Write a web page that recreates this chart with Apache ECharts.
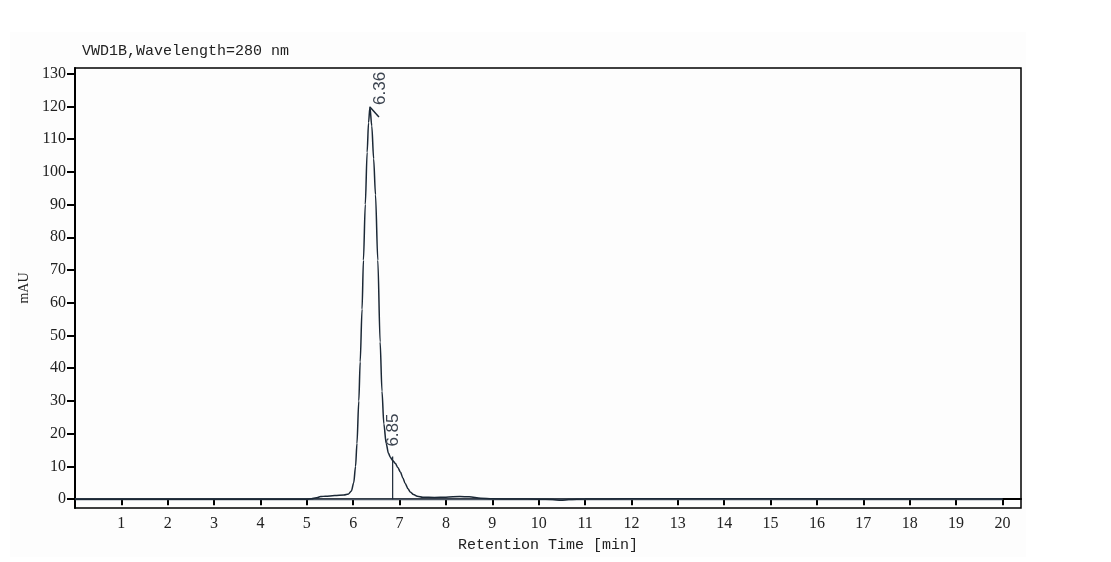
<!DOCTYPE html>
<html>
<head>
<meta charset="utf-8">
<script src="https://cdn.jsdelivr.net/npm/echarts@6/dist/echarts.min.js"></script>
<style>
html,body{margin:0;padding:0;background:#fff;}
#c{width:1111px;height:562px;}
</style>
</head>
<body>
<div id="c"></div>
<script>
// Retention time (min) and signal (mAU)
const times = [0, 5.0, 5.1, 5.2, 5.3, 5.4, 5.6, 5.8, 5.9, 5.96, 6.01, 6.05, 6.08, 6.12, 6.15, 6.19, 6.22, 6.26, 6.30, 6.33, 6.36,
  6.40, 6.44, 6.48, 6.53, 6.58, 6.62, 6.66, 6.71, 6.76, 6.80, 6.85, 6.91, 6.96, 7.02, 7.07, 7.12, 7.18, 7.23, 7.30, 7.38,
  7.5, 7.75, 8.0, 8.3, 8.5, 8.75, 9.0, 9.5, 10.0, 10.3, 10.48, 10.65, 11.0, 12, 15, 20];
const signal = [0, 0, 0.1, 0.4, 0.8, 0.9, 1.1, 1.3, 1.6, 2.5, 5, 10, 17, 30, 42, 58, 73, 90, 106, 115, 119.8,
  114, 104, 93, 73, 48, 33, 23, 17, 14, 12.8, 11.8, 10.9, 9.7, 8.2, 6.5, 4.8, 3.2, 2.2, 1.4, 0.9,
  0.6, 0.5, 0.6, 0.8, 0.7, 0.3, 0.1, 0.05, 0.0, -0.1, -0.35, -0.1, 0.05, 0.1, 0.1, 0.05];
// Peak annotations
const peakTimes = [6.36, 6.85];
const peakHeights = [119.8, 13];
const peakLabels = ['6.36', '6.85'];
// Axis tick values
const xTicks = [1,2,3,4,5,6,7,8,9,10,11,12,13,14,15,16,17,18,19,20];
const yTicks = [0,10,20,30,40,50,60,70,80,90,100,110,120,130];
const titleText = 'VWD1B,Wavelength=280 nm';
const xName = 'Retention Time [min]';
const yName = 'mAU';

const chart = echarts.init(document.getElementById('c'), null, {renderer: 'canvas'});
const traceData = times.map((t, i) => [t, signal[i]]);
const serifFont = '"Liberation Serif","DejaVu Serif",serif';
const monoFont = '"Liberation Mono","DejaVu Sans Mono",monospace';

const option = {
  backgroundColor: '#ffffff',
  animation: false,
  title: {
    text: titleText, left: 77, top: 39,
    textStyle: {fontFamily: monoFont, fontSize: 15, fontWeight: 'normal', color: '#222'}
  },
  grid: {left: 75, right: 90, top: 68, bottom: 54, show: true, borderColor: '#000', borderWidth: 1.5, backgroundColor: 'transparent'},
  xAxis: {
    type: 'value', min: 0, max: 20.4,
    name: xName, nameLocation: 'middle', nameGap: 30,
    nameTextStyle: {fontFamily: monoFont, fontSize: 15, color: '#222'},
    axisLine: {show: true, lineStyle: {color: '#000', width: 2}},
    axisTick: {show: true, length: 6, lineStyle: {color: '#000', width: 2}, customValues: xTicks},
    axisLabel: {fontFamily: serifFont, fontSize: 16, color: '#222', margin: 8, customValues: xTicks},
    splitLine: {show: false}
  },
  yAxis: {
    type: 'value', min: -2.7, max: 131.7,
    name: yName, nameLocation: 'middle', nameGap: 44, nameRotate: 90,
    nameTextStyle: {fontFamily: serifFont, fontSize: 14, color: '#222'},
    axisLine: {show: true, lineStyle: {color: '#000', width: 2}},
    axisTick: {show: true, length: 8, lineStyle: {color: '#000', width: 2}, customValues: yTicks},
    axisLabel: {fontFamily: serifFont, fontSize: 16, color: '#222', margin: 9, customValues: yTicks},
    splitLine: {show: false}
  },
  series: [
    {
      type: 'line', data: [[0, 0], [20, 0]], symbol: 'none', silent: true,
      lineStyle: {color: '#4a5563', width: 2}, z: 2
    },
    {
      type: 'line', data: traceData, symbol: 'none', smooth: 0.3, smoothMonotone: 'x',
      lineStyle: {color: '#1b2836', width: 1.5}, z: 3
    },
    {
      type: 'line', data: [[peakTimes[1], 0], [peakTimes[1], peakHeights[1]]], symbol: 'none',
      lineStyle: {color: '#1b2836', width: 1.2}, z: 3
    }
  ]
};
chart.setOption(option);

function drawAnnotations() {
  const p0 = chart.convertToPixel({gridIndex: 0}, [peakTimes[0], peakHeights[0]]);
  const p1 = chart.convertToPixel({gridIndex: 0}, [peakTimes[1], peakHeights[1]]);
  const labelStyle = {fontFamily: '"Liberation Sans","DejaVu Sans",sans-serif', fontSize: 17, fill: '#3c4450', align: 'left', verticalAlign: 'middle'};
  chart.setOption({
    graphic: [
      {type: 'rect', z: -10, silent: true, shape: {x: 10, y: 32, width: 1016, height: 525}, style: {fill: '#fdfdfd'}},
      {type: 'line', z: 100, shape: {x1: p0[0], y1: p0[1], x2: p0[0] + 9, y2: p0[1] + 10}, style: {stroke: '#1b2836', lineWidth: 1.5}},
      {type: 'text', z: 100, x: p0[0] + 10, y: p0[1] - 2, rotation: Math.PI / 2, style: Object.assign({text: peakLabels[0]}, labelStyle)},
      {type: 'text', z: 100, x: p1[0] + 1, y: p1[1] - 10, rotation: Math.PI / 2, style: Object.assign({text: peakLabels[1]}, labelStyle)}
    ]
  });
}
drawAnnotations();
</script>
</body>
</html>
